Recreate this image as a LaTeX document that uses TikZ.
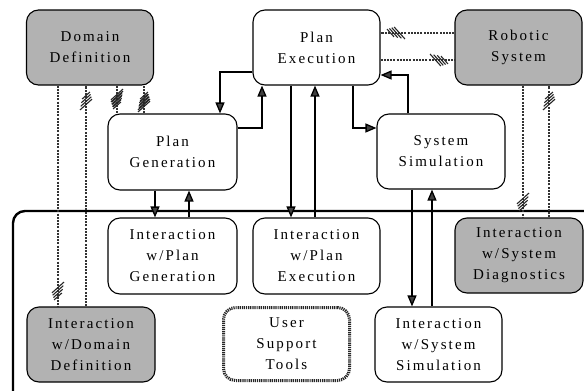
\documentclass[tikz,border=0pt]{standalone}
\usepackage{fontspec}
\setmainfont[LetterSpace=14]{Liberation Serif}
\usetikzlibrary{arrows.meta,calc,decorations.markings}
\tikzset{
  box/.style={draw, line width=1.1pt, rounded corners=12pt, minimum width=127pt,
    minimum height=75pt, align=center, inner sep=0pt,
    font=\fontsize{15}{21}\selectfont},
  gbox/.style={box, fill=black!30},
  ubox/.style={box, draw=black!85, line width=3pt, dash pattern=on 1.2pt off 0.9pt},
  arr/.style={line width=1.3pt, -{Triangle[length=11pt,width=9pt,fill=black!75]}},
  hatchmark/.style={decoration={markings, mark=at position #1 with {
      \foreach \i/\h in {0/6,1/5.3,2/4.6,3/3.9}{
        \draw[solid, line width=1.1pt, black!85] (\i*3-6-\h*0.9,-\h) -- (\i*3-6+\h*0.9,\h);
      }}}},
  hatchline/.style={draw=black!80, line width=1.2pt, dash pattern=on 2pt off 1.2pt,
    postaction={decorate}, hatchmark=-13pt},
}
\begin{document}
\begin{tikzpicture}[x=1pt,y=-1pt]
\useasboundingbox (0,0) rectangle (584,391);
\clip (0,0) rectangle (584,391);
% frame
\draw[line width=2.4pt, rounded corners=12pt] (600,211) -- (13,211) -- (13,420);
% nodes
\node[gbox] (dom) at (90,47.5) {Domain\\Definition};
\node[box]  (pe)  at (316.5,47.5) {Plan\\Execution};
\node[gbox] (rob) at (518.5,47.5) {Robotic\\System};
\node[box]  (pg)  at (172.5,152) [minimum width=129pt, minimum height=76pt] {Plan\\Generation};
\node[box]  (ss)  at (441,151.5) [minimum width=128pt] {System\\Simulation};
\node[box]  (ipg) at (172.5,256) [minimum width=129pt, minimum height=76pt] {Interaction\\w/Plan\\Generation};
\node[box]  (ipe) at (316.5,256) [minimum height=76pt] {Interaction\\w/Plan\\Execution};
\node[gbox] (isd) at (519,255.5) [minimum width=128pt] {Interaction\\w/System\\Diagnostics};
\node[gbox] (idd) at (91,344.5) [minimum width=128pt] {Interaction\\w/Domain\\Definition};
\node[ubox] (ust) at (286.5,344) [minimum width=126pt, minimum height=73pt] {User\\Support\\Tools};
\node[box]  (iss) at (438.5,344.5) {Interaction\\w/System\\Simulation};
% solid connectors
\draw[arr] ([yshift=-24.5pt]pe.west) -| ([xshift=47.5pt]pg.north);
\draw[arr] ([yshift=24pt]pg.east) -| ([xshift=-54.5pt]pe.south);
\draw[arr] ([xshift=36.5pt]pe.south) |- ([yshift=23.5pt]ss.west);
\draw[arr] ([xshift=-33pt]ss.north) |- ([yshift=-27.5pt]pe.east);
\draw[arr] ([xshift=-17.5pt]pg.south) -- ([xshift=-17.5pt]pg.south |- ipg.north);
\draw[arr] ([xshift=16.5pt]ipg.north) -- ([xshift=16.5pt]ipg.north |- pg.south);
\draw[arr] ([xshift=-25.5pt]pe.south) -- ([xshift=-25.5pt]pe.south |- ipe.north);
\draw[arr] ([xshift=-1.5pt]ipe.north) -- ([xshift=-1.5pt]ipe.north |- pe.south);
\draw[arr] ([xshift=-29pt]ss.south) -- ([xshift=-29pt]ss.south |- iss.north);
\draw[arr] ([xshift=-9pt]ss.south |- iss.north) -- ([xshift=-9pt]ss.south);
% hatched connectors
\draw[hatchline] ([xshift=-32pt]dom.south) -- ([xshift=-32pt]dom.south |- idd.north);
\draw[hatchline] ([xshift=-4pt]dom.south |- idd.north) -- ([xshift=-4pt]dom.south);
\draw[hatchline, hatchmark=-11pt] ([xshift=27pt]dom.south) -- ([xshift=27pt]dom.south |- pg.north);
\draw[hatchline, hatchmark=-15pt] ([xshift=54pt]dom.south |- pg.north) -- ([xshift=54pt]dom.south);
\draw[hatchline] ([yshift=14.5pt]rob.west) -- ([yshift=14.5pt]pe.east);
\draw[hatchline] ([yshift=-12.5pt]pe.east) -- ([yshift=-12.5pt]rob.west);
\draw[hatchline] ([xshift=4.5pt]rob.south) -- ([xshift=4.5pt]rob.south |- isd.north);
\draw[hatchline] ([xshift=30.5pt]rob.south |- isd.north) -- ([xshift=30.5pt]rob.south);
\end{tikzpicture}
\end{document}
